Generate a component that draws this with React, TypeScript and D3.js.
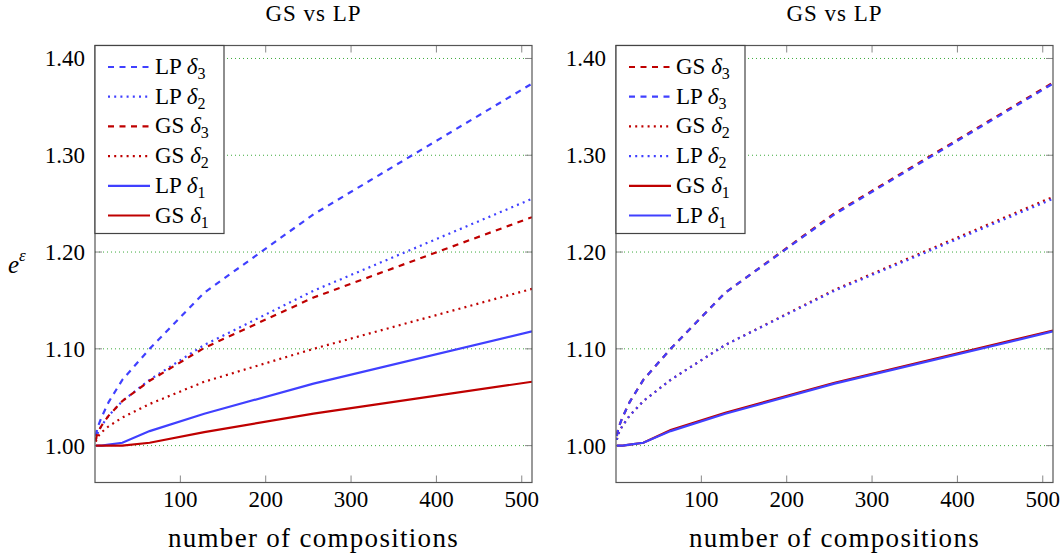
import * as d3 from 'd3';
import React, { useRef, useEffect } from 'react';

const compositions = [1, 2, 4, 8, 16, 32, 64, 128, 256, 512];

// LP curves (same in both panels)
const lpDelta1 = [1.000, 1.000, 1.000, 1.000, 1.001, 1.003, 1.015, 1.033, 1.064, 1.118];
const lpDelta2 = [1.006, 1.010, 1.015, 1.021, 1.031, 1.046, 1.068, 1.104, 1.160, 1.255];
const lpDelta3 = [1.010, 1.015, 1.021, 1.030, 1.045, 1.068, 1.100, 1.158, 1.239, 1.374];

// GS, left panel
const gsLeftDelta1 = [1.000, 1.000, 1.000, 1.000, 1.000, 1.000, 1.003, 1.014, 1.033, 1.066];
const gsLeftDelta2 = [1.004, 1.007, 1.010, 1.014, 1.020, 1.029, 1.043, 1.066, 1.100, 1.162];
const gsLeftDelta3 = [1.006, 1.010, 1.015, 1.021, 1.031, 1.046, 1.067, 1.101, 1.153, 1.236];

// GS, right panel
const gsRightDelta1 = [1.000, 1.000, 1.000, 1.000, 1.001, 1.003, 1.016, 1.034, 1.065, 1.119];
const gsRightDelta2 = [1.006, 1.010, 1.015, 1.021, 1.031, 1.046, 1.068, 1.104, 1.161, 1.257];
const gsRightDelta3 = [1.010, 1.015, 1.021, 1.030, 1.045, 1.068, 1.100, 1.158, 1.240, 1.375];

const xTicks = [100, 200, 300, 400, 500];
const yTicks = [1.0, 1.1, 1.2, 1.3, 1.4];
const title = "GS vs LP";
const xLabel = "number of compositions";

const blue = "#4040ff";
const red = "#bf0000";
const font = "Liberation Serif, Times New Roman, Times, DejaVu Serif, Noto Serif, serif";

type Series = { method: string; delta: number; values: number[] };

const leftSeries: Series[] = [
    { method: "LP", delta: 3, values: lpDelta3 },
    { method: "LP", delta: 2, values: lpDelta2 },
    { method: "GS", delta: 3, values: gsLeftDelta3 },
    { method: "GS", delta: 2, values: gsLeftDelta2 },
    { method: "LP", delta: 1, values: lpDelta1 },
    { method: "GS", delta: 1, values: gsLeftDelta1 },
];

const rightSeries: Series[] = [
    { method: "GS", delta: 3, values: gsRightDelta3 },
    { method: "LP", delta: 3, values: lpDelta3 },
    { method: "GS", delta: 2, values: gsRightDelta2 },
    { method: "LP", delta: 2, values: lpDelta2 },
    { method: "GS", delta: 1, values: gsRightDelta1 },
    { method: "LP", delta: 1, values: lpDelta1 },
];

const dashFor = (delta: number) => delta === 3 ? "6,5.5" : delta === 2 ? "2,4.2" : null;
const colorFor = (method: string) => method === "LP" ? blue : red;

function App() {
    const ref = useRef<SVGSVGElement>(null);

    useEffect(() => {
        const svg = d3.select(ref.current);
        svg.selectAll("*").remove();
        drawPanel(svg, 95, leftSeries, "clipL");
        drawPanel(svg, 616, rightSeries, "clipR");

        // y label e^eps
        const yl = svg.append("text")
            .attr("x", 8).attr("y", 273)
            .style("font-family", font).attr("font-size", 25)
            .attr("font-style", "italic");
        yl.append("tspan").text("e");
        yl.append("tspan").attr("font-size", 17).attr("dy", -12).text("ε");
    }, []);

    const drawPanel = (svg: any, left: number, series: Series[], clipId: string) => {
        const width = 437;
        const top = 45.5, bottom = 482.5;
        const x = d3.scaleLinear().domain([0, 512]).range([left, left + width]);
        const y = d3.scaleLinear().domain([0.9619, 1.4134]).range([bottom, top]);
        const g = svg.append("g").style("font-family", font);

        g.append("clipPath").attr("id", clipId)
            .append("rect")
            .attr("x", left).attr("y", top)
            .attr("width", width).attr("height", bottom - top);

        // grid
        g.selectAll(".grid").data(yTicks).enter()
            .append("line")
            .attr("x1", left).attr("x2", left + width)
            .attr("y1", (d: number) => y(d)).attr("y2", (d: number) => y(d))
            .attr("stroke", "#3caa3c").attr("stroke-width", 1)
            .attr("stroke-dasharray", "1,3");

        // ticks
        xTicks.forEach(t => {
            g.append("line").attr("x1", x(t)).attr("x2", x(t)).attr("y1", bottom).attr("y2", bottom - 7)
                .attr("stroke", "#888");
            g.append("line").attr("x1", x(t)).attr("x2", x(t)).attr("y1", top).attr("y2", top + 7)
                .attr("stroke", "#888");
            g.append("text").attr("x", x(t)).attr("y", 507)
                .attr("text-anchor", "middle").attr("font-size", 23)
                .text(t);
        });
        yTicks.forEach(t => {
            g.append("line").attr("x1", left).attr("x2", left + 7).attr("y1", y(t)).attr("y2", y(t))
                .attr("stroke", "#888");
            g.append("line").attr("x1", left + width).attr("x2", left + width - 7).attr("y1", y(t)).attr("y2", y(t))
                .attr("stroke", "#888");
            g.append("text").attr("x", left - 10).attr("y", y(t) + 8)
                .attr("text-anchor", "end").attr("font-size", 23)
                .text(t.toFixed(2));
        });

        // curves
        const line = d3.line<number>()
            .x((d, i) => x(compositions[i]))
            .y(d => y(d));
        series.forEach(s => {
            const p = g.append("path")
                .attr("d", line(s.values))
                .attr("fill", "none")
                .attr("stroke", colorFor(s.method))
                .attr("stroke-width", 2.2)
                .attr("clip-path", `url(#${clipId})`);
            const dash = dashFor(s.delta);
            if (dash) p.attr("stroke-dasharray", dash);
        });

        // frame
        g.append("rect")
            .attr("x", left).attr("y", top)
            .attr("width", width).attr("height", bottom - top)
            .attr("fill", "none").attr("stroke", "#555").attr("stroke-width", 1.2);

        // legend
        const lx = left, ly = top, rowH = 29.7;
        g.append("rect")
            .attr("x", lx).attr("y", ly).attr("width", 129).attr("height", 188)
            .attr("fill", "white").attr("stroke", "#444").attr("stroke-width", 1.2);
        series.forEach((s, i) => {
            const cy = ly + 21.5 + i * rowH;
            const l = g.append("line")
                .attr("x1", lx + 13).attr("x2", lx + 55)
                .attr("y1", cy).attr("y2", cy)
                .attr("stroke", colorFor(s.method)).attr("stroke-width", 2.2);
            const dash = dashFor(s.delta);
            if (dash) l.attr("stroke-dasharray", dash);
            const t = g.append("text")
                .attr("x", lx + 60).attr("y", cy + 7)
                .attr("font-size", 23);
            t.append("tspan").text(s.method + " ");
            t.append("tspan").attr("font-style", "italic").text("δ");
            t.append("tspan").attr("font-size", 16).attr("dy", 5).text(s.delta);
        });

        // title and x label
        g.append("text").attr("x", left + width / 2).attr("y", 21)
            .attr("text-anchor", "middle").attr("font-size", 23)
            .attr("letter-spacing", 1)
            .text(title);
        g.append("text").attr("x", left + width / 2).attr("y", 547)
            .attr("text-anchor", "middle").attr("font-size", 27)
            .attr("letter-spacing", 1.3)
            .text(xLabel);
    };

    return (
        <svg ref={ref} width={1060} height={558}
            style={{ position: "absolute", left: 0, top: 0, background: "white" }}>
        </svg>
    );
}

export default App;
